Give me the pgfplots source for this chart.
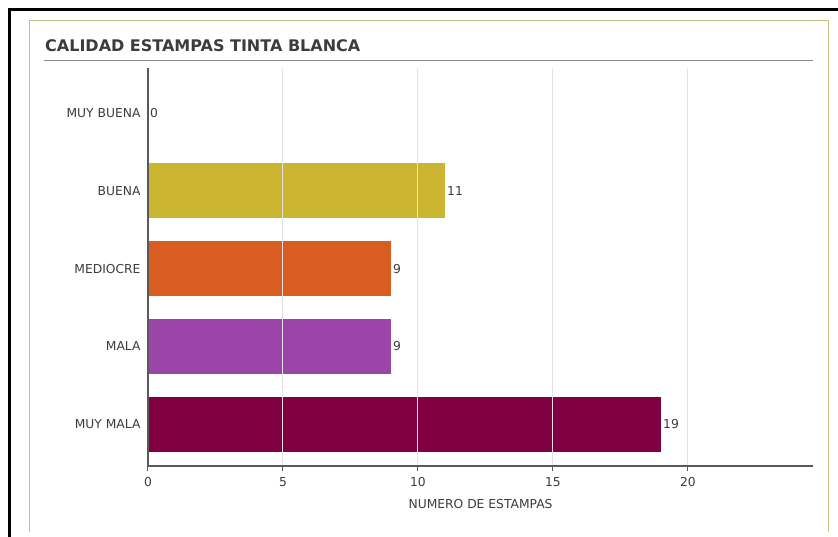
\documentclass[border=0pt]{standalone}
\usepackage{pgfplots}
\pgfplotsset{compat=1.18}
\usepackage{fontspec}
\setmainfont{DejaVu Sans}
\pgfkeys{/pgf/number format/assume math mode=true}
\definecolor{txt}{RGB}{60,60,60}
\definecolor{frameol}{RGB}{196,194,132}
\definecolor{cbuena}{RGB}{204,181,48}
\definecolor{cmedio}{RGB}{217,92,33}
\definecolor{cmala}{RGB}{155,69,168}
\definecolor{cmuymala}{RGB}{128,0,66}
\begin{document}
\begin{tikzpicture}
\path[use as bounding box] (0pt,0pt) rectangle (838pt,-537pt);
\draw[line width=2.4pt, black] (9.5pt,-545pt) -- (9.5pt,-9.5pt) -- (845pt,-9.5pt);
\draw[line width=1.3pt, frameol] (29.5pt,-532pt) -- (29.5pt,-20.7pt) -- (828.3pt,-20.7pt) -- (828.3pt,-532pt);
\node[anchor=base west, inner sep=0pt, text=txt, font=\bfseries\fontsize{16}{18}\selectfont] at (45pt,-52pt) {CALIDAD ESTAMPAS TINTA BLANCA};
\draw[line width=1.3pt, black!45] (44pt,-60.5pt) -- (813pt,-60.5pt);
\begin{axis}[
  at={(148pt,-466pt)}, anchor=south west,
  scale only axis, width=665pt, height=398pt,
  xbar, bar width=55pt, bar shift=0pt,
  xmin=0, xmax=24.63, ymin=-0.54, ymax=4.58,
  axis x line=bottom, axis y line=left,
  axis line style={-, draw=black!65, line width=1.1pt},
  xtick={0,5,10,15,20},
  ytick={0,1,2,3,4},
  yticklabels={MUY MALA, MALA, MEDIOCRE, BUENA, MUY BUENA},
  y tick style={draw=none},
  x tick style={draw=black!65, line width=1pt},
  tick align=outside, major tick length=5pt,
  xmajorgrids, major grid style={draw=black!11, line width=1pt},
  axis on top,
  /pgf/number format/assume math mode=true,
  tick label style={text=txt, font=\fontsize{12.3}{14}\selectfont},
  yticklabel style={xshift=1pt},
  xticklabel style={yshift=-3pt},
  xlabel={NUMERO DE ESTAMPAS},
  xlabel style={text=txt, font=\fontsize{12.3}{14}\selectfont, yshift=-6pt},
  nodes near coords,
  every node near coord/.append style={text=txt, font=\fontsize{12.3}{14}\selectfont, inner sep=2pt},
]
\addplot[fill=cbuena, draw=none] coordinates {(0,4)};
\addplot[fill=cbuena, draw=none] coordinates {(11,3)};
\addplot[fill=cmedio, draw=none] coordinates {(9,2)};
\addplot[fill=cmala, draw=none] coordinates {(9,1)};
\addplot[fill=cmuymala, draw=none] coordinates {(19,0)};
\end{axis}
\end{tikzpicture}
\end{document}
